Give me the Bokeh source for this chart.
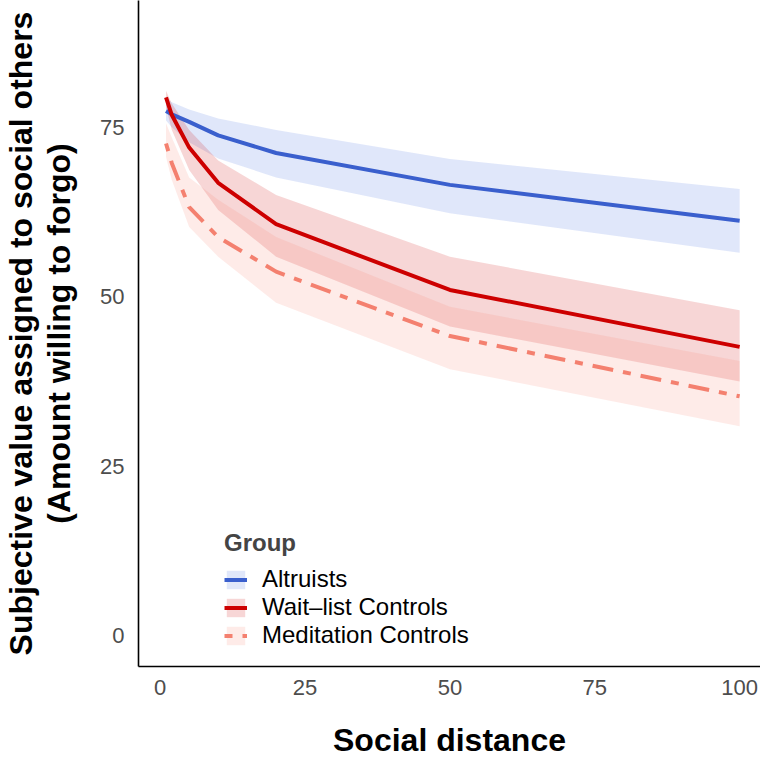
from bokeh.plotting import figure
from bokeh.models import Range1d, FixedTicker, Legend, LegendItem
from bokeh.embed import file_html
from bokeh.resources import INLINE

# ---- data ----
distance = [1, 2, 5, 10, 20, 50, 100]

alt_mean = [77.4, 76.9, 75.8, 73.8, 71.2, 66.5, 61.2]
alt_lo = [76.0, 75.0, 72.8, 70.4, 67.6, 62.3, 56.5]
alt_hi = [79.3, 78.7, 77.6, 76.3, 74.6, 70.3, 65.9]

wl_mean = [79.4, 76.8, 72.0, 66.8, 60.7, 51.0, 42.6]
wl_lo = [78.0, 74.6, 68.7, 62.8, 55.9, 45.6, 37.5]
wl_hi = [80.4, 78.5, 74.6, 70.1, 65.0, 55.9, 48.0]

med_mean = [72.6, 69.7, 63.2, 58.8, 53.7, 44.2, 35.3]
med_lo = [70.6, 67.2, 60.3, 55.9, 49.1, 39.3, 30.9]
med_hi = [75.6, 73.5, 67.6, 64.3, 58.8, 48.5, 40.5]

group_names = ["Altruists", "Wait\u2013list Controls", "Meditation Controls"]
x_ticks = [0, 25, 50, 75, 100]
y_ticks = [0, 25, 50, 75]

FONT = "Liberation Sans"

p = figure(width=760, height=760, output_backend="svg", toolbar_location=None,
           x_range=Range1d(-3.75, 103.6), y_range=Range1d(-4.56, 93.7),
           min_border_left=131, min_border_bottom=92, min_border_top=0,
           min_border_right=0)
p.outline_line_color = None
p.background_fill_color = "white"
p.border_fill_color = "white"
p.xgrid.visible = False
p.ygrid.visible = False

# ribbons
r_alt = p.varea(x=distance, y1=alt_lo, y2=alt_hi, fill_color="#4169E1", fill_alpha=0.16)
r_wl = p.varea(x=distance, y1=wl_lo, y2=wl_hi, fill_color="#CD0000", fill_alpha=0.16)
r_med = p.varea(x=distance, y1=med_lo, y2=med_hi, fill_color="#FA8072", fill_alpha=0.16)

# lines
l_alt = p.line(distance, alt_mean, line_color="#3A5FCD", line_width=4)
l_wl = p.line(distance, wl_mean, line_color="#CD0000", line_width=4)
l_med = p.line(distance, med_mean, line_color="#F4806F", line_width=4,
               line_dash="8 10 21 10")

for ax in (p.xaxis[0], p.yaxis[0]):
    ax.axis_line_color = "black"
    ax.axis_line_width = 1.6
    ax.major_tick_line_color = None
    ax.minor_tick_line_color = None
    ax.major_label_text_font = FONT
    ax.major_label_text_font_size = "22px"
    ax.major_label_text_color = "#4D4D4D"
    ax.axis_label_text_font = FONT
    ax.axis_label_text_font_style = "bold"
    ax.axis_label_text_color = "black"
    ax.axis_label_text_font_size = "32px"
    ax.axis_label_text_line_height = 1.05

p.xaxis.ticker = FixedTicker(ticks=x_ticks)
p.yaxis.ticker = FixedTicker(ticks=y_ticks)
p.xaxis.major_label_standoff = 7
p.yaxis.major_label_standoff = 8

p.xaxis.axis_label = "Social distance"
p.xaxis.axis_label_standoff = 24

p.yaxis.axis_label = "Subjective value assigned to social others\n(Amount willing to forgo)"
p.yaxis.axis_label_standoff = 20

legend = Legend(items=[
    LegendItem(label=group_names[0], renderers=[r_alt, l_alt]),
    LegendItem(label=group_names[1], renderers=[r_wl, l_wl]),
    LegendItem(label=group_names[2], renderers=[r_med, l_med]),
], location=(86, 17))
legend.title = "Group"
legend.title_text_font = FONT
legend.title_text_font_style = "bold"
legend.title_text_font_size = "24px"
legend.title_standoff = 8
legend.label_text_font = FONT
legend.label_text_font_size = "24px"
legend.label_text_color = "black"
legend.glyph_width = 23
legend.glyph_height = 23
legend.label_height = 28
legend.spacing = 0
legend.label_standoff = 15
legend.padding = 0
legend.margin = 0
legend.border_line_color = None
legend.background_fill_alpha = 0
p.add_layout(legend, "center")

open("out.html", "w").write(file_html(p, INLINE))
